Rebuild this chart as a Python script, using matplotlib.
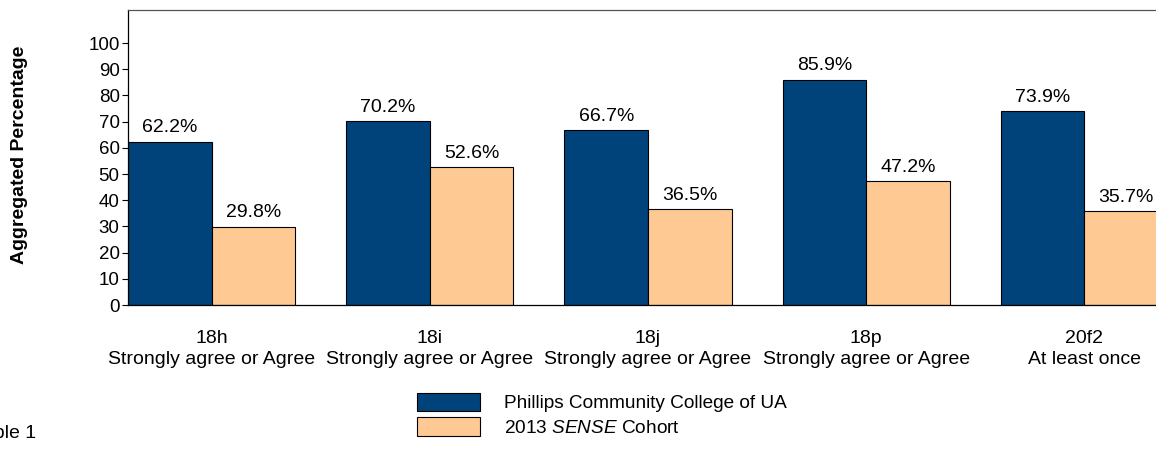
import matplotlib
matplotlib.use("Agg")
import matplotlib.pyplot as plt
import numpy as np
from matplotlib.patches import Patch

plt.rcParams['font.family'] = ['Liberation Sans', 'DejaVu Sans']
plt.rcParams['mathtext.fontset'] = 'custom'
plt.rcParams['mathtext.it'] = 'Liberation Sans:italic'
plt.rcParams['mathtext.rm'] = 'Liberation Sans'

categories = ["18h\nStrongly agree or Agree", "18i\nStrongly agree or Agree",
              "18j\nStrongly agree or Agree", "18p\nStrongly agree or Agree",
              "20f2\nAt least once"]
college = [62.2, 70.2, 66.7, 85.9, 73.9]
cohort = [29.8, 52.6, 36.5, 47.2, 35.7]
series_names = ["Phillips Community College of UA", r"2013 $\mathit{SENSE}$ Cohort"]
yticks = [0, 10, 20, 30, 40, 50, 60, 70, 80, 90, 100]

blue = "#00427A"
peach = "#FFC994"
FS = 14

W, H = 1156, 449
fig = plt.figure(figsize=(W/100, H/100), dpi=100)
ax = fig.add_axes([128/W, (H-305)/H, (1168-128)/W, (305-10)/H])

x = np.arange(len(categories))
bw = 0.383
b1 = ax.bar(x - bw/2, college, bw, color=blue, edgecolor="black", linewidth=0.8)
b2 = ax.bar(x + bw/2, cohort, bw, color=peach, edgecolor="black", linewidth=0.8)

for bars, vals in ((b1, college), (b2, cohort)):
    for b, v in zip(bars, vals):
        ax.annotate(f"{v:.1f}%", (b.get_x() + b.get_width()/2, v),
                    xytext=(0, 4), textcoords="offset points",
                    ha="center", va="bottom", fontsize=FS)

ax.set_xlim(-bw, len(categories) - 1 + bw)
ax.set_ylim(0, 112.6)
ax.set_yticks(yticks)
ax.set_yticklabels([str(t) for t in yticks], fontsize=13.5)
ax.set_xticks(x)
ax.set_xticklabels(categories, fontsize=FS, linespacing=1.3)
ax.tick_params(axis='x', length=0, pad=18)
ax.tick_params(axis='y', length=4, width=0.8, pad=2)

ax.spines['top'].set_color('#555555')
ax.spines['right'].set_visible(False)
ax.spines['left'].set_linewidth(0.9)
ax.spines['bottom'].set_linewidth(0.9)
ax.spines['top'].set_linewidth(0.9)

fig.text(20/W, 1 - 155/H, "Aggregated Percentage", rotation=90, fontsize=FS,
         fontweight="bold", ha="center", va="center")

handles = [Patch(facecolor=blue, edgecolor="black", linewidth=0.8),
           Patch(facecolor=peach, edgecolor="black", linewidth=0.8)]
fig.legend(handles, series_names, loc="upper left",
           bbox_to_anchor=(412/W, 1 - 388/H), frameon=False, fontsize=13.7,
           handlelength=3.3, handleheight=1.1, labelspacing=0.27,
           handletextpad=1.3, borderaxespad=0, borderpad=0.25)

fig.text(-27/W, 1 - 433/H, "Table 1", fontsize=FS, ha="left", va="center")

fig.savefig("out.png", dpi=100)
